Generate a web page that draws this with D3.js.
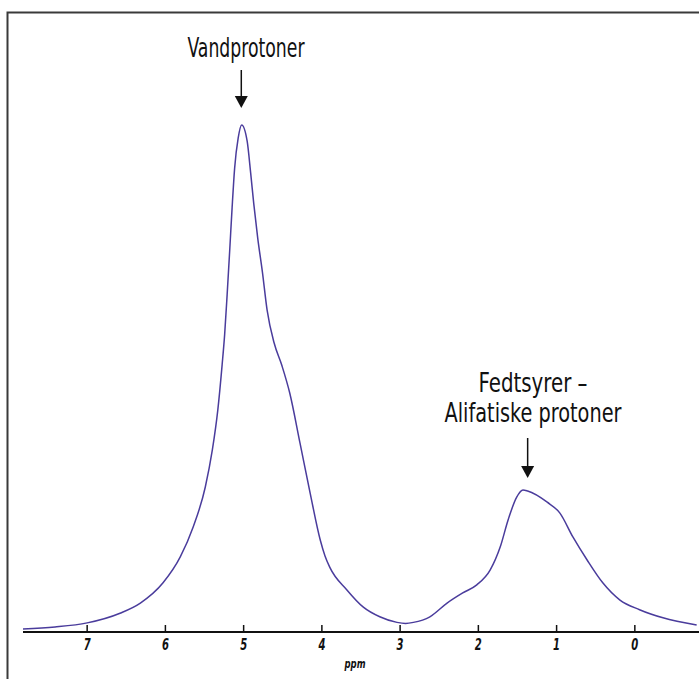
<!DOCTYPE html>
<html>
<head>
<meta charset="utf-8">
<script src="https://cdn.jsdelivr.net/npm/d3@7"></script>
<style>
  body { margin: 0; background: #fff; }
  svg { display: block; }
  .lbl { font-family: "Liberation Sans Narrow", "DejaVu Sans Condensed", sans-serif; }
</style>
</head>
<body>
<div id="chart"></div>
<script>
// Spectrum (chemical shift in ppm, relative signal)
var ppm = [7.82, 7.41, 7.0, 6.58, 6.32, 6.03, 5.81, 5.645, 5.49, 5.40, 5.33, 5.275, 5.243, 5.211, 5.179,
           5.147, 5.115, 5.07, 5.025, 4.955, 4.91, 4.87, 4.82, 4.76, 4.70, 4.61, 4.51, 4.41, 4.28,
           4.15, 4.02, 3.96, 3.90, 3.68, 3.47, 3.26, 3.04, 2.93, 2.83, 2.62, 2.40, 2.20, 2.02, 1.85, 1.72,
           1.62, 1.51, 1.43, 1.37, 1.12, 0.96, 0.79, 0.61, 0.41, 0.19, -0.06, -0.36, -0.79];
var signal = [0.6, 1.0, 1.8, 3.7, 5.7, 9.7, 14.8, 20.7, 28.6, 35.9, 43.8, 52.7, 58.6, 66.5, 75.0,
              83.8, 91.5, 97.4, 100, 96.8, 90.5, 84.4, 77.7, 71.0, 63.5, 57.0, 52.5, 47.1, 37.3,
              27.4, 18.1, 15.0, 12.8, 8.3, 4.9, 3.0, 1.9, 1.7, 1.9, 3.0, 5.7, 7.7, 9.3, 12.2, 16.8,
              22.1, 26.6, 28.0, 27.8, 25.6, 23.5, 18.7, 14.2, 9.7, 6.3, 4.4, 2.8, 1.4];
var tickValues = [7, 6, 5, 4, 3, 2, 1, 0];

// Annotations
var peakLabels = [
  { lines: ["Vandprotoner"], at: 5.03, widths: [117] },
  { lines: ["Fedtsyrer \u2013", "Alifatiske protoner"], at: 1.37, widths: [109, 177] }
];

var width = 699,
    height = 679;

var svg = d3.select("#chart")
            .append("svg")
              .attr("width", width)
              .attr("height", height);

// frame
svg.append("rect")
   .attr("x", 7.5).attr("y", 12.5)
   .attr("width", 720).attr("height", 700)
   .attr("fill", "none")
   .attr("stroke", "#3a3a3a")
   .attr("stroke-width", 2);

var x = d3.scaleLinear()
          .domain([7.82, -0.82])
          .range([23, 699]);

var y = d3.scaleLinear()
          .domain([0, 100])
          .range([632, 125]);

var data = ppm.map(function(d, i) { return { p: d, v: signal[i] }; });

// axis
var axis = svg.append("g")
              .attr("transform", "translate(0,632)");
axis.append("line")
    .attr("x1", 23).attr("x2", 699)
    .attr("stroke", "#111").attr("stroke-width", 2);
axis.selectAll(".tick")
    .data(tickValues)
    .enter()
    .append("line")
      .attr("x1", function(d) { return x(d); })
      .attr("x2", function(d) { return x(d); })
      .attr("y1", 0).attr("y2", -7)
      .attr("stroke", "#111").attr("stroke-width", 1.5);
axis.selectAll(".tl")
    .data(tickValues)
    .enter()
    .append("text")
      .attr("class", "lbl")
      .attr("x", function(d) { return x(d); })
      .attr("y", 18)
      .attr("text-anchor", "middle")
      .attr("font-size", 15)
      .attr("font-weight", "bold")
      .attr("font-style", "italic")
      .attr("textLength", 7)
      .attr("lengthAdjust", "spacingAndGlyphs")
      .attr("fill", "#111")
      .text(function(d) { return d; });

svg.append("text")
   .attr("class", "lbl")
   .attr("x", 355).attr("y", 668)
   .attr("text-anchor", "middle")
   .attr("font-size", 12)
   .attr("font-weight", "bold")
   .attr("font-style", "italic")
   .attr("textLength", 21)
   .attr("lengthAdjust", "spacingAndGlyphs")
   .attr("fill", "#111")
   .text("ppm");

// spectrum
var line = d3.line()
             .x(function(d) { return x(d.p); })
             .y(function(d) { return y(d.v); })
             .curve(d3.curveMonotoneX);

svg.append("path")
   .datum(data)
   .attr("d", line)
   .attr("fill", "none")
   .attr("stroke", "#4a3c9c")
   .attr("stroke-width", 1.5);

// peak labels with arrows
var tops = [[57], [392, 422]];
var arrows = [[70, 108], [438, 478]];
var centers = [246, 533];

peakLabels.forEach(function(lab, k) {
  lab.lines.forEach(function(t, j) {
    svg.append("text")
       .attr("class", "lbl")
       .attr("x", centers[k])
       .attr("y", tops[k][j])
       .attr("text-anchor", "middle")
       .attr("font-size", 27)
       .attr("textLength", lab.widths[j])
       .attr("lengthAdjust", "spacingAndGlyphs")
       .attr("fill", "#111")
       .text(t);
  });
  var ax = x(lab.at);
  svg.append("line")
     .attr("x1", ax).attr("x2", ax)
     .attr("y1", arrows[k][0]).attr("y2", arrows[k][1] - 10)
     .attr("stroke", "#111").attr("stroke-width", 1.5);
  svg.append("path")
     .attr("d", "M" + (ax - 6.5) + "," + (arrows[k][1] - 12) + "L" + (ax + 6.5) + "," + (arrows[k][1] - 12) + "L" + ax + "," + arrows[k][1] + "Z")
     .attr("fill", "#111");
});
</script>
</body>
</html>
